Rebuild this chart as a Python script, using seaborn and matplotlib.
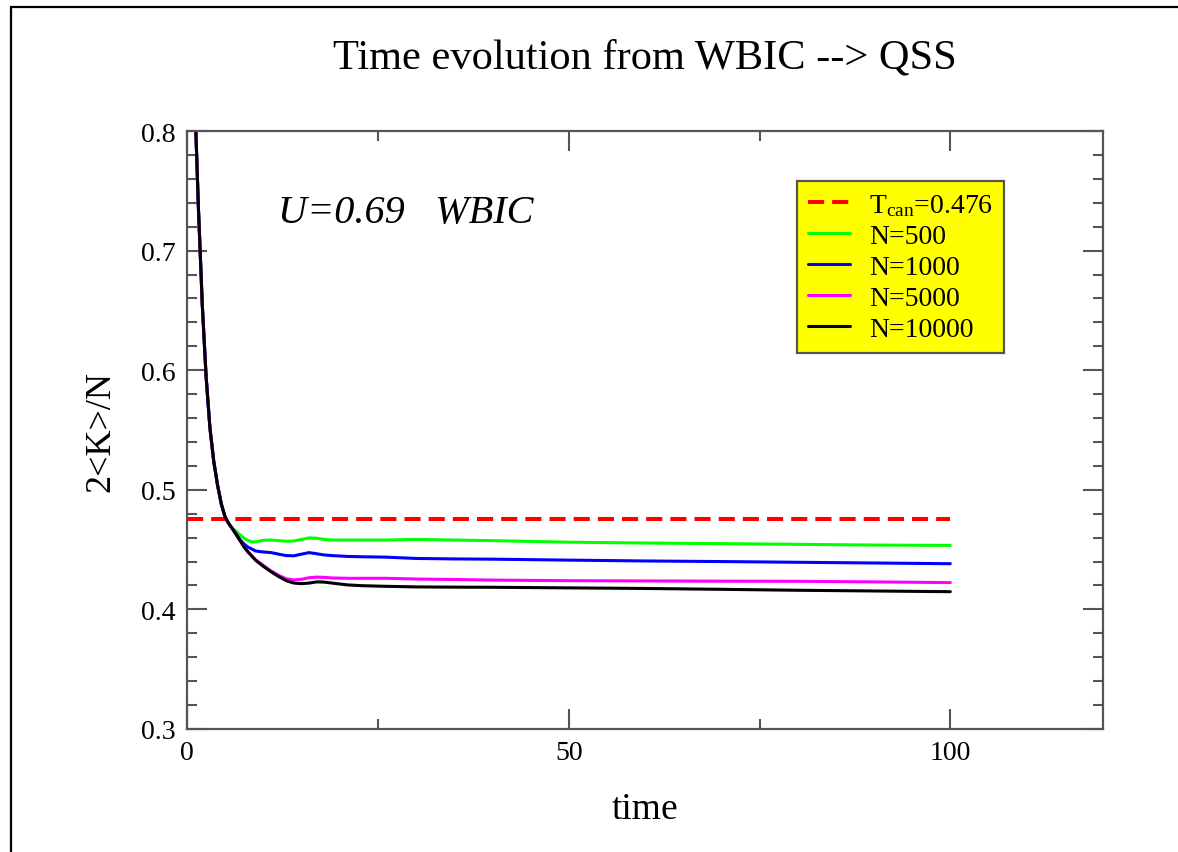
import numpy as np
import pandas as pd
import matplotlib
matplotlib.use("Agg")
import matplotlib.pyplot as plt
from matplotlib.patches import Rectangle
from matplotlib.ticker import MultipleLocator
import seaborn as sns

# ---------------- data ----------------
time = [0, 0.5, 1, 1.5, 2, 2.5, 3, 3.5, 4, 4.5, 5, 5.5, 6, 6.5, 7, 7.5, 8, 8.5, 9,
        10, 11, 12, 13, 14, 15, 16, 17, 18, 19, 21, 23, 26, 30, 35, 40, 50, 60, 70,
        80, 90, 100]

n10000 = [1.02, 0.91, 0.83, 0.735, 0.655, 0.595, 0.552, 0.524, 0.504, 0.488, 0.477,
          0.4715, 0.467, 0.462, 0.457, 0.452, 0.448, 0.4445, 0.441,
          0.436, 0.4315, 0.4275, 0.424, 0.422, 0.4215, 0.422, 0.423, 0.4228, 0.422,
          0.4205, 0.4198, 0.4193, 0.4188, 0.4186, 0.4185, 0.418, 0.4175, 0.4168,
          0.416, 0.4154, 0.4148]

n5000 = [1.02, 0.91, 0.83, 0.735, 0.655, 0.595, 0.552, 0.524, 0.504, 0.488, 0.477,
         0.4715, 0.467, 0.462, 0.457, 0.452, 0.448, 0.4447, 0.4414,
         0.4368, 0.4322, 0.4285, 0.4256, 0.4246, 0.4252, 0.4265, 0.427, 0.4268, 0.4263,
         0.426, 0.426, 0.426, 0.4254, 0.425, 0.4245, 0.424, 0.4238, 0.4236,
         0.4235, 0.423, 0.4224]

n1000 = [1.02, 0.91, 0.83, 0.735, 0.655, 0.595, 0.552, 0.524, 0.504, 0.488, 0.477,
         0.4715, 0.467, 0.4625, 0.458, 0.4545, 0.452, 0.4505, 0.4488,
         0.448, 0.4475, 0.4462, 0.445, 0.4448, 0.4462, 0.4475, 0.4465, 0.4455, 0.445,
         0.4443, 0.444, 0.4437, 0.4426, 0.4422, 0.442, 0.4412, 0.4405, 0.44,
         0.4394, 0.4388, 0.4382]

n500 = [1.02, 0.91, 0.83, 0.735, 0.655, 0.595, 0.552, 0.524, 0.504, 0.488, 0.477,
        0.4715, 0.4675, 0.465, 0.462, 0.4595, 0.4575, 0.4565, 0.4565,
        0.4578, 0.458, 0.4575, 0.457, 0.4572, 0.4585, 0.4598, 0.4595, 0.4585, 0.458,
        0.458, 0.458, 0.458, 0.4585, 0.458, 0.4575, 0.4562, 0.4555, 0.455,
        0.4544, 0.4538, 0.4535]

t_can_time = [0, 100]
t_can_value = [0.476, 0.476]

labels = [r"T$_{\mathrm{can}}$=0.476", "N=500", "N=1000", "N=5000", "N=10000"]
colors = ["#ff0000", "#00ff00", "#0000ff", "#ff00ff", "#000000"]

# ---------------- style ----------------
sns.set_theme(style="ticks")
plt.rcParams["font.family"] = ["Liberation Serif", "DejaVu Serif"]
plt.rcParams["mathtext.fontset"] = "custom"
plt.rcParams["mathtext.rm"] = "Liberation Serif"
plt.rcParams["mathtext.it"] = "Liberation Serif:italic"
plt.rcParams["text.color"] = "black"
plt.rcParams["axes.labelcolor"] = "black"
plt.rcParams["xtick.labelcolor"] = "black"
plt.rcParams["ytick.labelcolor"] = "black"

fig = plt.figure(figsize=(11.78, 8.53), dpi=100)
fig.patch.set_facecolor("white")
W, H = 1178, 853
ax_left, ax_right, ax_top, ax_bottom = 187, 1103, 132, 730
ax = fig.add_axes([ax_left / W, 1 - ax_bottom / H,
                   (ax_right - ax_left) / W, (ax_bottom - ax_top) / H])
ax.set_facecolor("white")

# outer frame
fig.patches.append(Rectangle((11 / W, -0.1), 1.2, 1.1 - 8 / H,
                             transform=fig.transFigure, fill=False,
                             edgecolor="black", linewidth=1.6, zorder=0))

# ---------------- plot ----------------
sns.lineplot(x=t_can_time, y=t_can_value, ax=ax, color=colors[0], linewidth=2.9,
             label=labels[0], dashes=False)
ax.lines[-1].set_dashes((4, 2))
series = [n500, n1000, n5000, n10000]
for vals, col, lab in zip(series, colors[1:], labels[1:]):
    sns.lineplot(x=time, y=vals, ax=ax, color=col, linewidth=2.2, label=lab)

ax.set_xlim(0, 120)
ax.set_ylim(0.3, 0.8)
ax.xaxis.set_major_locator(MultipleLocator(50))
ax.xaxis.set_minor_locator(MultipleLocator(25))
ax.yaxis.set_major_locator(MultipleLocator(0.1))
ax.yaxis.set_minor_locator(MultipleLocator(0.02))
ax.set_xticks([0, 50, 100])
ax.set_xticklabels(["0", "50", "100"])
ax.set_yticks([0.3, 0.4, 0.5, 0.6, 0.7, 0.8])
ax.set_yticklabels(["0.3", "0.4", "0.5", "0.6", "0.7", "0.8"])

spine_col = "#555555"
for s in ax.spines.values():
    s.set_visible(True)
    s.set_color(spine_col)
    s.set_linewidth(1.6)
ax.tick_params(which="both", direction="in", top=True, right=True,
               color=spine_col, width=1.5, labelsize=20, labelcolor="black", pad=8)
ax.tick_params(which="major", length=14.5)
ax.tick_params(which="minor", length=7.2)

ax.set_xlabel("time", fontsize=27, color="black")
ax.set_ylabel("2<K>/N", fontsize=26, color="black")
ax.xaxis.set_label_coords(0.5, -0.105)
ax.yaxis.set_label_coords(-0.076, 0.5)
ax.set_title("Time evolution from WBIC --> QSS", fontsize=30.5, pad=46, color="black")

ax.text(0.0993, 0.848, "U=0.69   WBIC", transform=ax.transAxes, fontsize=29,
        fontstyle="italic", va="baseline", ha="left", color="black")

leg = ax.legend(loc="upper left", bbox_to_anchor=(797 / W, 1 - 182 / H),
                bbox_transform=fig.transFigure, borderaxespad=0, fontsize=20,
                frameon=True, fancybox=False, facecolor="#ffff00",
                edgecolor="#555555", framealpha=1, handlelength=1.5,
                handletextpad=0.7, labelspacing=0.2, borderpad=0.4)
leg.get_frame().set_linewidth(1.6)
for txt in leg.get_texts():
    txt.set_color("black")

fig.savefig("out.png", dpi=100)
